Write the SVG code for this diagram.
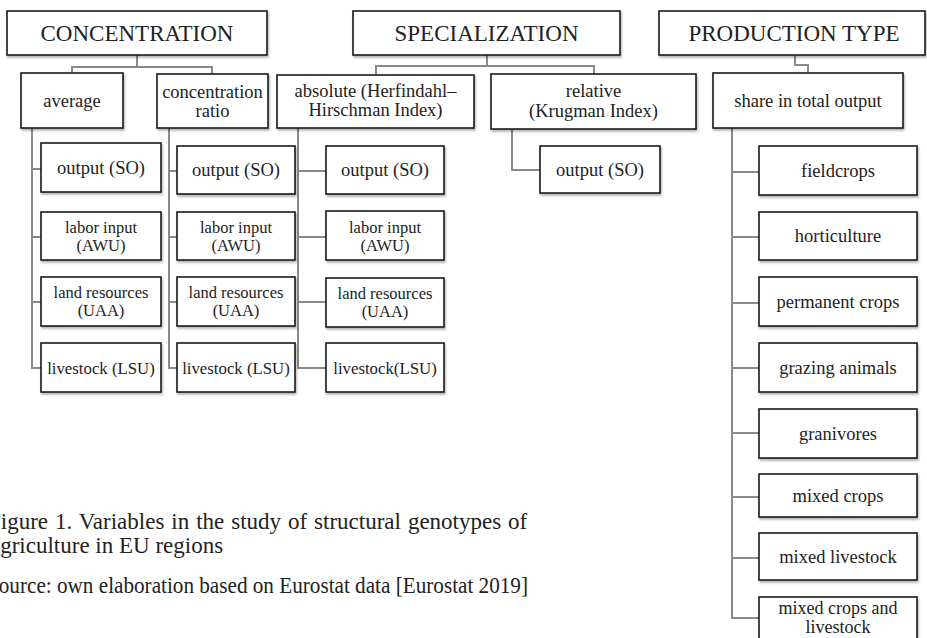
<svg xmlns="http://www.w3.org/2000/svg" width="927" height="638" viewBox="0 0 927 638">
<defs>
<filter id="sh" x="-10%" y="-10%" width="125%" height="130%">
<feDropShadow dx="1" dy="2" stdDeviation="1.2" flood-color="#000" flood-opacity="0.3"/>
</filter>
<style>
rect{fill:#fff;stroke:#1a1a1a;stroke-width:1.6;filter:url(#sh)}
text{font-family:"Liberation Serif","Times New Roman",serif;fill:#222;text-anchor:middle}
.big{font-size:23px}
.mid{font-size:18.5px}
.sm{font-size:16.5px}
.ls{font-size:16.8px}
.con path{fill:none;stroke:#8a8a8a;stroke-width:2}
.cap{font-size:23px;text-anchor:start}
</style>
</defs>
<rect width="927" height="638" style="fill:#fff;stroke:none;filter:none"/>
<g class="con">
<path d="M72 73V67H212V74M137 55V67"/>
<path d="M376 75V66H594V74M487 55V66"/>
<path d="M795 55V65H808V73"/>
<path d="M32 128V368H41M32 169H41M32 237H41M32 302H41"/>
<path d="M169 128V368H177M169 171H177M169 237H177M169 302H177"/>
<path d="M298 128V368H326M298 171H326M298 237H326M298 302H326"/>
<path d="M512 129V170H540"/>
<path d="M732 128V618H759M732 172H759M732 237H759M732 303H759M732 368H759M732 433H759M732 497H759M732 558H759"/>
</g>
<g id="concentration"><rect x="7" y="11" width="260" height="44"/><text class="big" x="137" y="41">CONCENTRATION</text></g>
<g id="specialization"><rect x="353" y="11" width="267" height="44"/><text class="big" x="486.5" y="41">SPECIALIZATION</text></g>
<g id="production-type"><rect x="659" y="11" width="266" height="44"/><text class="big" x="794" y="41">PRODUCTION TYPE</text></g>
<g id="average"><rect x="21" y="73" width="102" height="55"/><text class="mid" x="72" y="107">average</text></g>
<g id="concentration-ratio"><rect x="157" y="74" width="111" height="54"/><text class="mid" x="212.5" y="98">concentration</text><text class="mid" x="212.5" y="117">ratio</text></g>
<g id="absolute"><rect x="277" y="75" width="197" height="53"/><text class="mid" x="375.5" y="97">absolute (Herfindahl–</text><text class="mid" x="375.5" y="116">Hirschman Index)</text></g>
<g id="relative"><rect x="491" y="74" width="205" height="55"/><text class="mid" x="593.5" y="97">relative</text><text class="mid" x="593.5" y="117">(Krugman Index)</text></g>
<g id="share"><rect x="713" y="73" width="190" height="55"/><text class="mid" x="808" y="107">share in total output</text></g>

<g id="c1-output"><rect x="41" y="143" width="120" height="49"/><text class="mid" x="101" y="174">output (SO)</text></g>
<g id="c1-labor"><rect x="41" y="212" width="120" height="48"/><text class="sm" x="101" y="233">labor input</text><text class="sm" x="101" y="251">(AWU)</text></g>
<g id="c1-land"><rect x="41" y="277" width="120" height="49"/><text class="sm" x="101" y="298">land resources</text><text class="sm" x="101" y="316">(UAA)</text></g>
<g id="c1-livestock"><rect x="41" y="343" width="120" height="49"/><text class="ls" x="101" y="374">livestock (LSU)</text></g>

<g id="c2-output"><rect x="177" y="146" width="118" height="48"/><text class="mid" x="236" y="176">output (SO)</text></g>
<g id="c2-labor"><rect x="177" y="212" width="118" height="48"/><text class="sm" x="236" y="233">labor input</text><text class="sm" x="236" y="251">(AWU)</text></g>
<g id="c2-land"><rect x="177" y="277" width="118" height="49"/><text class="sm" x="236" y="298">land resources</text><text class="sm" x="236" y="316">(UAA)</text></g>
<g id="c2-livestock"><rect x="177" y="343" width="118" height="49"/><text class="ls" x="236" y="374">livestock (LSU)</text></g>

<g id="c3-output"><rect x="326" y="146" width="118" height="48"/><text class="mid" x="385" y="176">output (SO)</text></g>
<g id="c3-labor"><rect x="326" y="211" width="118" height="49"/><text class="sm" x="385" y="233">labor input</text><text class="sm" x="385" y="251">(AWU)</text></g>
<g id="c3-land"><rect x="326" y="278" width="118" height="49"/><text class="sm" x="385" y="299">land resources</text><text class="sm" x="385" y="317">(UAA)</text></g>
<g id="c3-livestock"><rect x="326" y="343" width="118" height="49"/><text class="ls" x="385" y="374">livestock(LSU)</text></g>

<g id="rel-output"><rect x="540" y="146" width="120" height="47"/><text class="mid" x="600" y="176">output (SO)</text></g>

<g id="fieldcrops"><rect x="759" y="146" width="158" height="49"/><text class="mid" x="838" y="177">fieldcrops</text></g>
<g id="horticulture"><rect x="759" y="212" width="158" height="48"/><text class="mid" x="838" y="242">horticulture</text></g>
<g id="permanent-crops"><rect x="759" y="277" width="158" height="49"/><text class="mid" x="838" y="308">permanent crops</text></g>
<g id="grazing-animals"><rect x="759" y="343" width="158" height="49"/><text class="mid" x="838" y="374">grazing animals</text></g>
<g id="granivores"><rect x="759" y="409" width="158" height="49"/><text class="mid" x="838" y="440">granivores</text></g>
<g id="mixed-crops"><rect x="759" y="474" width="158" height="43"/><text class="mid" x="838" y="502">mixed crops</text></g>
<g id="mixed-livestock"><rect x="759" y="533" width="158" height="47"/><text class="mid" x="838" y="563">mixed livestock</text></g>
<g id="mixed-crops-livestock"><rect x="759" y="597" width="158" height="50"/><text class="mid" x="838" y="614" style="font-size:18px">mixed crops and</text><text class="mid" x="838" y="633" style="font-size:18px">livestock</text></g>

<g id="caption">
<text class="cap" x="-12" y="529" word-spacing="1.2">Figure 1. Variables in the study of structural genotypes of</text>
<text class="cap" x="-10" y="553">agriculture in EU regions</text>
<text class="cap" x="-13" y="593" textLength="541" lengthAdjust="spacingAndGlyphs">Source: own elaboration based on Eurostat data [Eurostat 2019]</text>
</g>
</svg>
